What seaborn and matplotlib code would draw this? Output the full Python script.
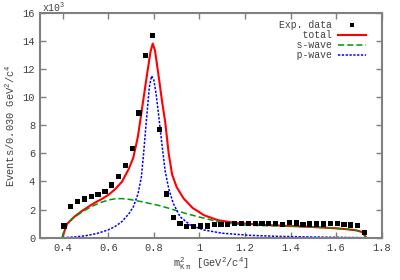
import matplotlib
matplotlib.use('Agg')
import matplotlib.pyplot as plt
from matplotlib.ticker import FuncFormatter
import numpy as np
import pandas as pd
import seaborn as sns

# measured spectrum, events per bin (x10^3)
m2 = [0.405, 0.435, 0.465, 0.495, 0.525, 0.555, 0.585, 0.615, 0.645, 0.675,
      0.705, 0.735, 0.765, 0.795, 0.825, 0.855, 0.885, 0.915, 0.945, 0.975,
      1.005, 1.035, 1.065, 1.095, 1.125, 1.155, 1.185, 1.215, 1.245, 1.275,
      1.305, 1.335, 1.365, 1.395, 1.425, 1.455, 1.485, 1.515, 1.545, 1.575,
      1.605, 1.635, 1.665, 1.695, 1.725]
events = [0.83, 2.2, 2.6, 2.75, 2.92, 3.09, 3.27, 3.75, 4.37, 5.15,
          6.33, 8.87, 12.94, 14.35, 7.68, 3.11, 1.42, 1.0, 0.78, 0.78,
          0.83, 0.83, 0.92, 0.92, 0.95, 1.0, 1.0, 1.0, 1.0, 1.0,
          1.0, 1.02, 0.95, 1.09, 1.05, 0.95, 0.97, 0.97, 0.97, 1.02,
          1.02, 0.95, 0.9, 0.85, 0.38]

# fit curves
total_x = [0.398, 0.41, 0.42, 0.45, 0.48, 0.51, 0.54, 0.57, 0.60, 0.63,
           0.66, 0.69, 0.71, 0.73, 0.75, 0.77, 0.785, 0.795, 0.805, 0.82,
           0.835, 0.85, 0.865, 0.88, 0.90, 0.93, 0.97, 1.02, 1.08, 1.15,
           1.22, 1.30, 1.40, 1.50, 1.60, 1.65, 1.69, 1.715, 1.733]
total_y = [0.0, 0.6, 1.0, 1.48, 1.85, 2.18, 2.48, 2.74, 3.04, 3.45,
           3.98, 4.9, 5.7, 7.2, 9.4, 11.6, 13.2, 13.8, 13.3, 11.6,
           9.8, 8.2, 6.0, 4.5, 3.6, 2.8, 2.12, 1.6, 1.25, 1.07,
           0.98, 0.9, 0.83, 0.76, 0.67, 0.6, 0.52, 0.4, 0.0]

s_x = [0.398, 0.41, 0.42, 0.45, 0.48, 0.51, 0.54, 0.57, 0.60, 0.63,
       0.66, 0.69, 0.72, 0.75, 0.78, 0.82, 0.86, 0.90, 0.95, 1.00,
       1.08, 1.15, 1.22, 1.30, 1.40, 1.50, 1.60, 1.65, 1.69, 1.715, 1.733]
s_y = [0.0, 0.8, 1.05, 1.45, 1.78, 2.07, 2.32, 2.52, 2.68, 2.77,
       2.78, 2.73, 2.64, 2.55, 2.44, 2.3, 2.12, 1.92, 1.68, 1.47,
       1.15, 0.98, 0.88, 0.85, 0.82, 0.76, 0.67, 0.6, 0.52, 0.4, 0.0]

p_x = [0.40, 0.45, 0.50, 0.55, 0.60, 0.63, 0.66, 0.69, 0.71, 0.73,
       0.745, 0.755, 0.768, 0.78, 0.79, 0.80, 0.81, 0.82, 0.835, 0.85,
       0.865, 0.885, 0.915, 0.96, 1.02, 1.10, 1.22, 1.34, 1.50, 1.60, 1.733]
p_y = [0.0, 0.05, 0.14, 0.3, 0.56, 0.8, 1.15, 1.7, 2.2, 3.1,
       4.3, 6.0, 8.5, 10.7, 11.5, 11.2, 10.2, 8.85, 6.7, 4.7,
       3.5, 2.45, 1.49, 0.9, 0.55, 0.32, 0.17, 0.1, 0.05, 0.03, 0.0]

plt.rcParams['font.family'] = ['Liberation Mono', 'DejaVu Sans Mono']
plt.rcParams['mathtext.fontset'] = 'custom'
plt.rcParams['mathtext.rm'] = 'Liberation Mono'
plt.rcParams['mathtext.it'] = 'Liberation Mono'

grey = '#808080'
txt = '#404040'

fig = plt.figure(figsize=(4, 2.8), dpi=100)
ax = fig.add_axes([0.1, 0.151, 0.854, 0.804])

sns.scatterplot(x=m2, y=events, ax=ax, marker='s', s=14, color='black',
                edgecolor='none', label='Exp. data', zorder=5)
sns.lineplot(x=total_x, y=total_y, ax=ax, color='#ff0000', lw=1.5,
             label='    total', sort=False)
sns.lineplot(x=s_x, y=s_y, ax=ax, color='#009900', lw=1.1,
             label='   s-wave', sort=False)
ax.lines[-1].set_dashes((4, 2))
sns.lineplot(x=p_x, y=p_y, ax=ax, color='#0000ff', lw=1.1,
             label='   p-wave', sort=False)
ax.lines[-1].set_dashes((1.5, 1))

ax.set_xlim(0.3, 1.8)
ax.set_ylim(0, 16)
ax.set_xticks([0.4, 0.6, 0.8, 1.0, 1.2, 1.4, 1.6, 1.8])
ax.set_yticks(range(0, 17, 2))
ax.xaxis.set_major_formatter(FuncFormatter(lambda v, p: '%g' % v))
ax.tick_params(direction='in', length=4, width=1, colors=grey,
               labelcolor=txt, labelsize=7.5, top=True, right=True)
for s in ax.spines.values():
    s.set_color(grey)
    s.set_linewidth(1.5)

ax.set_xlabel(r'm$^{2}_{K\ \pi}$ [GeV$^{2}$/c$^{4}$]', fontsize=7.5,
              color=txt, labelpad=2)
ax.set_ylabel(r'Events/0.030 GeV$^{2}$/c$^{4}$', fontsize=7.5,
              color=txt, labelpad=4)
ax.text(0.005, 0.992, r'x10$^{3}$', transform=ax.transAxes,
        fontsize=7, color=txt, ha='left', va='bottom')

leg = ax.legend(loc='upper right', bbox_to_anchor=(0.966, 0.985),
                frameon=False, markerfirst=False, borderaxespad=0,
                fontsize=7, handlelength=2.9, handletextpad=0.6,
                labelspacing=0.02, markerscale=0.8)
for t in leg.get_texts():
    t.set_color(txt)

fig.savefig('out.png', dpi=100)
